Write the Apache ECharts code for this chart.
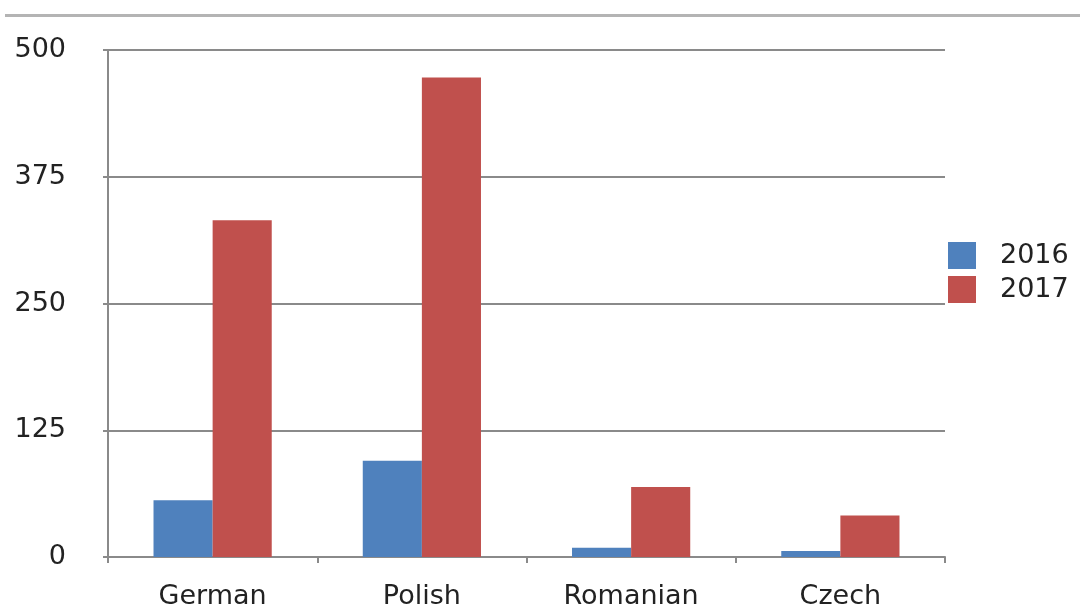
<!DOCTYPE html>
<html>
<head>
<meta charset="utf-8">
<script src="https://cdn.jsdelivr.net/npm/echarts@6/dist/echarts.min.js"></script>
<style>html,body{margin:0;padding:0;background:#fff;}#c{width:1080px;height:607px;}</style>
</head>
<body>
<div id="c"></div>
<script>
const categories = ['German', 'Polish', 'Romanian', 'Czech'];
const seriesNames = ['2016', '2017'];
const values2016 = [56, 95, 9, 6];
const values2017 = [332, 473, 69, 41];
const yTicks = [0, 125, 250, 375, 500];

const chart = echarts.init(document.getElementById('c'), null, {renderer: 'canvas'});
const font = 'DejaVu Sans';
chart.setOption({
  backgroundColor: '#ffffff',
  animation: false,
  graphic: [{
    type: 'rect', left: 5, top: 14,
    shape: {width: 1075, height: 3},
    style: {fill: '#b4b4b4'}
  }],
  grid: {left: 108, right: 135, top: 50, bottom: 50, containLabel: false, outerBoundsMode: 'none'},
  legend: {
    orient: 'vertical', left: 943, top: 237,
    itemWidth: 28, itemHeight: 27, itemGap: 7,
    icon: 'rect',
    data: seriesNames,
    textStyle: {fontFamily: font, fontSize: 27, color: '#222', lineHeight: 27, padding: [0, 0, 0, 19]}
  },
  xAxis: {
    type: 'category', data: categories,
    axisLine: {lineStyle: {color: '#8a8a8a', width: 2}},
    axisTick: {show: true, length: 6, lineStyle: {color: '#8a8a8a', width: 2}},
    axisLabel: {fontFamily: font, fontSize: 27, color: '#222', margin: 26}
  },
  yAxis: {
    type: 'value', min: yTicks[0], max: yTicks[yTicks.length - 1], interval: 125,
    axisLine: {show: true, lineStyle: {color: '#8a8a8a', width: 2}},
    axisTick: {show: true, length: 5, lineStyle: {color: '#8a8a8a', width: 2}},
    splitLine: {lineStyle: {color: '#8a8a8a', width: 2}},
    axisLabel: {fontFamily: font, fontSize: 27, color: '#222', margin: 42}
  },
  series: [
    {name: seriesNames[0], type: 'bar', data: values2016, barGap: '0%', barCategoryGap: '43.5%',
     itemStyle: {color: '#4F81BD'}},
    {name: seriesNames[1], type: 'bar', data: values2017, barGap: '0%', barCategoryGap: '43.5%',
     itemStyle: {color: '#C0504D'}}
  ]
});
</script>
</body>
</html>
